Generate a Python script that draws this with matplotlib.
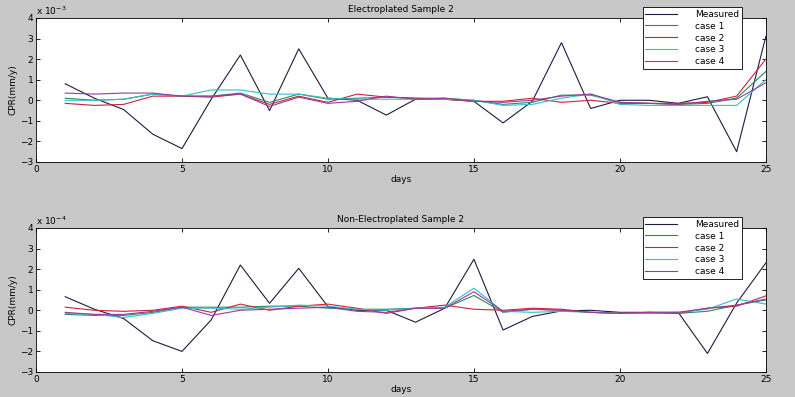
import numpy as np
import matplotlib
matplotlib.use("Agg")
import matplotlib.pyplot as plt

days = np.arange(1, 26)
labels = ["Measured", "case 1", "case 2", "case 3", "case 4"]
colors = ["#1c1c40", "#2a8a5a", "#d02040", "#30c0c8", "#9a3aa0"]

# Electroplated sample 2 (x 1e-3 mm/y)
ep_measured = [0.8, 0.1, -0.45, -1.65, -2.35, 0.05, 2.2, -0.5, 2.5, 0.1, 0.0, -0.72, 0.05, 0.05, -0.05,
               -1.1, -0.05, 2.8, -0.4, 0.0, 0.0, -0.15, 0.17, -2.5, 3.1]
ep_case1 = [0.1, 0.0, 0.05, 0.3, 0.2, 0.2, 0.35, -0.1, 0.3, 0.05, 0.1, 0.15, 0.1, 0.1, 0.0,
            -0.2, -0.1, 0.25, 0.25, -0.1, -0.15, -0.2, -0.15, 0.1, 1.4]
ep_case2 = [-0.15, -0.25, -0.2, 0.2, 0.2, 0.15, 0.3, -0.2, 0.2, -0.1, 0.3, 0.15, 0.1, 0.05, -0.05,
            -0.05, 0.1, -0.1, 0.0, -0.15, -0.15, -0.15, -0.1, 0.2, 2.0]
ep_case3 = [0.0, 0.0, 0.05, 0.3, 0.2, 0.5, 0.5, 0.3, 0.3, 0.1, 0.05, 0.05, 0.05, 0.05, 0.0,
            -0.25, -0.2, 0.1, 0.3, -0.2, -0.25, -0.25, -0.25, -0.25, 1.0]
ep_case4 = [0.35, 0.3, 0.35, 0.35, 0.2, 0.2, 0.3, -0.3, 0.15, -0.15, -0.05, 0.2, 0.05, 0.1, -0.05,
            -0.1, 0.0, 0.2, 0.3, -0.1, -0.15, -0.2, -0.05, 0.05, 0.85]

# Non-electroplated sample 2 (x 1e-4 mm/y)
ne_measured = [0.66, 0.05, -0.4, -1.48, -2.0, -0.47, 2.2, 0.34, 2.04, 0.18, 0.0, 0.0, -0.58, 0.1, 2.48,
               -0.96, -0.3, -0.03, 0.0, -0.1, -0.1, -0.1, -2.1, 0.35, 2.3]
ne_case1 = [-0.2, -0.25, -0.25, -0.1, 0.15, 0.15, 0.15, 0.2, 0.2, 0.1, 0.05, 0.05, 0.1, 0.1, 0.72,
            -0.1, 0.05, 0.0, -0.1, -0.15, -0.15, -0.15, -0.05, 0.25, 0.5]
ne_case2 = [0.15, 0.0, -0.05, 0.0, 0.2, -0.1, 0.3, 0.0, 0.2, 0.3, 0.1, -0.15, 0.1, 0.25, 0.05,
            0.0, 0.1, 0.05, -0.1, -0.15, -0.1, -0.15, 0.1, 0.2, 0.7]
ne_case3 = [-0.15, -0.2, -0.35, -0.15, 0.1, 0.1, 0.05, 0.15, 0.25, 0.2, 0.05, 0.0, 0.1, 0.15, 1.07,
            -0.05, -0.1, -0.05, -0.1, -0.15, -0.15, -0.1, 0.05, 0.55, 0.3]
ne_case4 = [-0.1, -0.2, -0.2, -0.05, 0.15, -0.25, 0.0, 0.05, 0.1, 0.15, -0.05, -0.1, 0.1, 0.1, 0.9,
            -0.05, 0.05, 0.0, -0.1, -0.15, -0.1, -0.1, 0.1, 0.25, 0.55]

panels = [
    ("Electroplated Sample 2", "-3", [ep_measured, ep_case1, ep_case2, ep_case3, ep_case4], 0.592),
    ("Non-Electroplated Sample 2", "-4", [ne_measured, ne_case1, ne_case2, ne_case3, ne_case4], 0.063),
]

bg = "#c8c8c8"
fig = plt.figure(figsize=(7.95, 3.97), dpi=100, facecolor=bg)
plt.rcParams['font.family'] = ['DejaVu Sans']

for title, exp, series, bottom in panels:
    ax = fig.add_axes([0.0453, bottom, 0.918, 0.3627])
    for s, c, lab in zip(series, colors, labels):
        ax.plot(days, s, color=c, lw=0.8, label=lab)
    ax.set_xlim(0, 25)
    ax.set_ylim(-3, 4)
    ax.set_xticks([0, 5, 10, 15, 20, 25])
    ax.set_yticks(range(-3, 5))
    ax.tick_params(direction="in", top=True, right=True, labelsize=6.5, length=3, width=0.6, pad=2)
    for sp in ax.spines.values():
        sp.set_linewidth(0.6)
    ax.set_title(title, fontsize=6.5, pad=4)
    ax.set_xlabel("days", fontsize=6.5, labelpad=1)
    ax.set_ylabel("CPR(mm/y)", fontsize=6.5, labelpad=2)
    ax.text(0.0, 1.01, r"x 10$^{%s}$" % exp, transform=ax.transAxes, fontsize=6.5, va="bottom")
    leg = ax.legend(loc="upper right", bbox_to_anchor=(0.967, 1.076),
                    fontsize=6.5, frameon=True, fancybox=False, handlelength=3.5, handletextpad=2.0,
                    labelspacing=0.32, borderpad=0.3, borderaxespad=0, facecolor="white")
    leg.get_frame().set_edgecolor("black")
    leg.get_frame().set_linewidth(0.6)
    leg.get_frame().set_alpha(1)

fig.savefig("out.png", dpi=100, facecolor=bg)
